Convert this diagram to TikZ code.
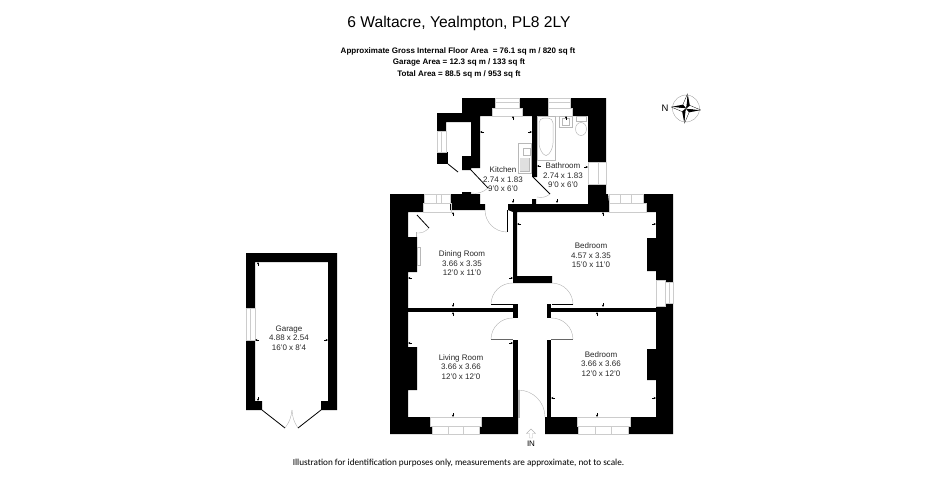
\documentclass[tikz,border=0pt]{standalone}
\usepackage{fontspec}
\setmainfont{Liberation Sans}
\newfontfamily\footfont{Carlito}
\tikzset{
    wall/.style={fill=black, draw=none},
    glazing/.style={draw=black!20, line width=0.4pt},
    fixture/.style={draw=black!28, line width=0.5pt},
    leaf/.style={draw=black, line width=0.8pt},
    swing/.style={draw=black!30, line width=0.4pt},
    dimtick/.style={-{Stealth[length=2.4pt,width=2.2pt]}, line width=0.4pt},
    roomlabel/.style={align=center, inner sep=0pt, text=black!85, font=\fontsize{8}{9.6}\selectfont},
    arealabel/.style={inner sep=0pt, font=\fontsize{8}{9.6}\selectfont\bfseries}
}
\usetikzlibrary{arrows.meta}
\begin{document}
\begin{tikzpicture}[x=1pt, y=-1pt]
    \useasboundingbox (0,0) rectangle (950,480);

    \node[inner sep=0pt, font=\fontsize{15.6}{18}\selectfont] (title) at (459,23) {6 Waltacre, Yealmpton, PL8 2LY};
    \node[arealabel] (floorarea) at (458,51) {Approximate Gross Internal Floor Area~ = 76.1 sq m / 820 sq ft};
    \node[arealabel] (garagearea) at (459,62.5) {Garage Area = 12.3 sq m / 133 sq ft};
    \node[arealabel] (totalarea) at (459,74) {Total Area = 88.5 sq m / 953 sq ft};

    % kitchen and bathroom walls
    \fill[wall] (462,98) -- (495,98) -- (495,108) -- (492,108) -- (492,116) -- (480,116) -- (480,168) -- (471,168)
        -- (471,170) -- (462,170) -- (462,156) -- (471,156) -- (471,122) -- (446,122) -- (446,131) -- (437,131)
        -- (437,113) -- (462,113) -- cycle;
    \fill[wall] (437,152) rectangle (448,164);
    \fill[wall] (519,98) -- (548,98) -- (548,116) -- (537,116) -- (537,177) -- (532,177) -- (532,116) -- (522,116)
        -- (522,108) -- (519,108) -- cycle;
    \fill[wall] (570,98) -- (606,98) -- (606,162) -- (588,162) -- (588,116) -- (572,116) -- (572,108) -- (570,108) -- cycle;

    % main walls
    \fill[wall] (390,194) -- (424,194) -- (424,203) -- (423,203) -- (423,212) -- (408,212) -- (408,237) -- (417,237)
        -- (417,272) -- (408,272) -- (408,347) -- (417,347) -- (417,390) -- (408,390) -- (408,417) -- (430,417)
        -- (430,426) -- (432,426) -- (432,434) -- (390,434) -- cycle;
    \fill[wall] (450,194) -- (462,194) -- (462,192) -- (471,192) -- (471,194) -- (480,194) -- (480,204) -- (485,204)
        -- (485,210) -- (450,210) -- cycle;
    \fill[wall] (508,204) -- (532,204) -- (532,199) -- (536,199) -- (536,204) -- (588,204) -- (588,184) -- (606,184)
        -- (606,194) -- (608,194) -- (609,203) -- (609,212) -- (517,212) -- (517,276) -- (552,276) -- (552,283)
        -- (513,283) -- (513,212) -- (508,210) -- cycle;
    \fill[wall] (643,194) -- (673,194) -- (673,282) -- (665,282) -- (665,280) -- (656,280) -- (656,271) -- (647,271)
        -- (647,238) -- (656,238) -- (656,212) -- (646,212) -- (646,203) -- (643,203) -- cycle;
    \fill[wall] (673,303) -- (673,434) -- (628,434) -- (628,426) -- (630,426) -- (630,417) -- (656,417) -- (656,380)
        -- (647,380) -- (647,349) -- (656,349) -- (656,307) -- (665,306) -- (665,303) -- cycle;
    \fill[wall] (408,308) rectangle (518,312);
    \fill[wall] (551,308) rectangle (656,312);
    \fill[wall] (513,304) rectangle (518,318);
    \fill[wall] (547,304) rectangle (551,318);
    \fill[wall] (513,340) rectangle (518,417);
    \fill[wall] (547,340) rectangle (551,417);
    \fill[wall] (479,426) -- (481,426) -- (481,417) -- (518,417) -- (518,434) -- (479,434) -- cycle;
    \fill[wall] (545,417) -- (577,417) -- (577,426) -- (578,426) -- (578,434) -- (545,434) -- cycle;

    % garage walls
    \fill[wall] (246,253) -- (337,253) -- (337,410) -- (321,410) -- (321,401) -- (328,401) -- (328,262) -- (255,262)
        -- (255,308) -- (246,308) -- cycle;
    \fill[wall] (246,340) -- (255,340) -- (255,401) -- (262,401) -- (262,410) -- (246,410) -- cycle;

    % windows
    \draw[glazing] (495,98) rectangle (519,108) (492,108) rectangle (522,116) (495,102) -- (519,102);
    \draw[glazing] (548,98) rectangle (570,108) (548,108) rectangle (572,116) (548,102) -- (570,102);
    \draw[glazing] (437,131) rectangle (446,152) (441,131) -- (441,152);
    \draw[glazing] (588,162) rectangle (606,184) (598,162) -- (598,184);
    \draw[glazing] (424,194) rectangle (450,203) (423,203) rectangle (451,212) (436,194) -- (436,203) (441,194) -- (441,203);
    \draw[glazing] (609,194) rectangle (643,203) (609,203) rectangle (646,212) (620,194) -- (620,203) (631,194) -- (631,203);
    \draw[glazing] (656,280) rectangle (665,306) (665,282) rectangle (673,303) (669,282) -- (669,303);
    \draw[glazing] (432,426) rectangle (479,434) (430,417) rectangle (481,426) (448,426) -- (448,434) (463,426) -- (463,434);
    \draw[glazing] (578,426) rectangle (628,434) (577,417) rectangle (630,426) (595,426) -- (595,434) (611,426) -- (611,434);
    \draw[glazing] (246,308) rectangle (255,340) (250,308) -- (250,340);

    % fittings
    \draw[fixture] (518,143) rectangle (531,173) (520,158) rectangle (529,171);
    \fill[black!12] (520,158) rectangle (529,171);
    \draw[fixture] (523,148) rectangle (530,155);
    \draw[fixture] (537,116) rectangle (555,160);
    \draw[fixture, rounded corners=5pt] (539,118) -- (553,118) -- (553,148) -- (546,158) -- (539,148) -- cycle;
    \draw[fixture] (559,116) rectangle (572,127) (562,118) rectangle (569,125);
    \draw[fixture] (576,116) rectangle (586,121);
    \draw[fixture] (581,129) ellipse (5.5pt and 6.5pt);
    \draw[fixture] (417,247) rectangle (420,265);

    % doors
    \draw[leaf] (448,164) -- (458,172);
    \draw[leaf] (471,170) -- (488,188);
    \draw[swing] (488,188) to[bend left=25] (471,193);
    \draw[leaf] (533,177) -- (550,194);
    \draw[swing] (550,194) to[bend left=25] (537,197);
    \draw[leaf] (417,215) -- (429,228);
    \draw[swing] (429,228) to[bend left=25] (416,233);
    \draw[swing] (416.5,232) -- (416.5,237);
    \draw[swing] (485,210) to[bend right=45] (507,232);
    \draw[leaf] (507,210) -- (507,232);
    \draw[swing] (491,304) to[bend left=45] (513,283);
    \draw[leaf] (491,304) -- (513,304);
    \draw[swing] (573,305) to[bend right=45] (552,283);
    \draw[leaf] (552,304) -- (573,304);
    \draw[swing] (491,339) to[bend left=45] (513,318);
    \draw[leaf, draw=black!60] (491,339.5) -- (513,339.5);
    \draw[swing] (573,339) to[bend right=45] (551,318);
    \draw[leaf, draw=black!60] (551,339.5) -- (573,339.5);
    \draw[swing] (518,390) to[bend left=45] (545,417);
    \draw[swing] (518.5,390) rectangle (519.5,417);
    \draw[leaf] (262,410) -- (285,428);
    \draw[leaf] (321,410) -- (298,428);
    \draw[swing] (285,428) to[bend right=15] (292,410);
    \draw[swing] (298,428) to[bend left=15] (292,410);

    % dimension ticks
    \foreach \xa/\ya/\xb/\yb in {513/120/513/116, 513/199/513/203, 484/132/480/132, 528/132/532/132,
        566/120/566/116, 557/199/557/203, 541/166/537/166, 584/167/588/167,
        453/216/453/212, 453/303/453/307, 412/278/408/278, 509/278/513/278,
        603/216/603/212, 603/303/603/307, 521/224/517/224, 652/224/656/224,
        453/316/453/312, 453/413/453/417, 412/343/408/343, 509/343/513/343,
        597/316/597/312, 597/413/597/417, 555/398/551/398, 652/398/656/398,
        258/266/258/262, 258/397/258/401, 259/340/255/340, 324/340/328/340}
        \draw[dimtick] (\xa,\ya) -- (\xb,\yb);

    % room labels
    \node[roomlabel] (kitchen) at (503,179.5) {Kitchen\\2.74 x 1.83\\9'0 x 6'0};
    \node[roomlabel] (bathroom) at (563,175.5) {Bathroom\\2.74 x 1.83\\9'0 x 6'0};
    \node[roomlabel] (dining) at (462,263.5) {Dining Room\\3.66 x 3.35\\12'0 x 11'0};
    \node[roomlabel] (bedroomone) at (591,255.5) {Bedroom\\4.57 x 3.35\\15'0 x 11'0};
    \node[roomlabel] (living) at (461,367) {Living Room\\3.66 x 3.66\\12'0 x 12'0};
    \node[roomlabel] (bedroomtwo) at (601,364) {Bedroom\\3.66 x 3.66\\12'0 x 12'0};
    \node[roomlabel] (garage) at (289,338) {Garage\\4.88 x 2.54\\16'0 x 8'4};

    % entrance
    \node[inner sep=0pt, font=\fontsize{8}{9.6}\selectfont] (entry) at (531,443.5) {IN};
    \draw[draw=black!30, line width=0.4pt] (531,429) -- (535.5,433.5) -- (532.5,433.5) -- (532.5,438)
        -- (529.5,438) -- (529.5,433.5) -- (526.5,433.5) -- cycle;

    % compass
    \node[inner sep=0pt, font=\fontsize{9.5}{11}\selectfont] (north) at (665,108) {N};
    \begin{scope}[shift={(686,108.5)}, rotate=-6]
        \draw[draw=black!35, line width=0.4pt] (0,0) circle (13.5pt);
        \foreach \angle in {0,90,180,270} {
            \fill[black, rotate=\angle] (0,0) -- (15,0) -- (3.5,3.5) -- cycle;
            \fill[white, rotate=\angle] (0,0) -- (15,0) -- (3.5,-3.5) -- cycle;
            \draw[line width=0.3pt, rotate=\angle] (15,0) -- (3.5,-3.5) -- (0,0);
        }
    \end{scope}

    \node[inner sep=0pt, font=\footfont\fontsize{9.2}{11}\selectfont] (disclaimer) at (458.5,463) {Illustration for identification purposes only, measurements are approximate, not to scale.};
\end{tikzpicture}
\end{document}
